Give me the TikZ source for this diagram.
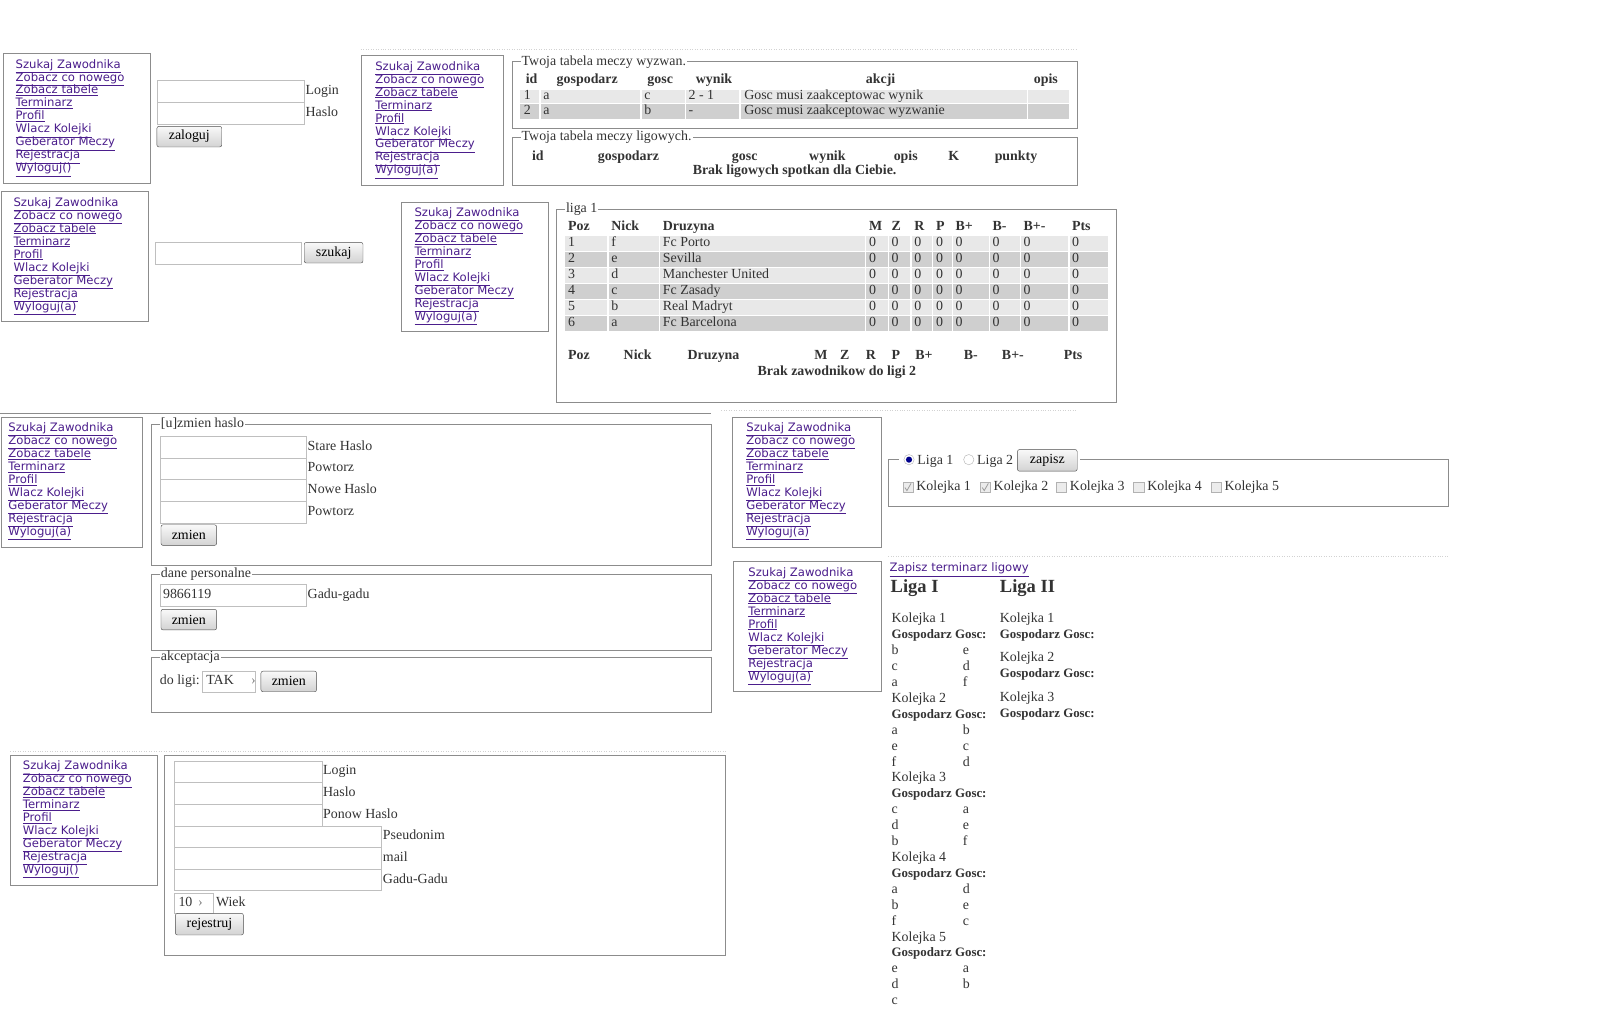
\documentclass[tikz,border=0pt]{standalone}
\usepackage{fontspec}
\setmainfont{Liberation Serif}
\newfontfamily\linkfont{DejaVu Sans}
\usetikzlibrary{positioning}
\definecolor{linkc}{RGB}{75,30,140}
\definecolor{boxc}{RGB}{140,140,140}
\tikzset{
  menubox/.style={draw=boxc, line width=0.8pt},
  link/.style={anchor=west, inner sep=0pt, text height=8.5pt, text depth=2.5pt, text=linkc, font=\linkfont\fontsize{11.3}{13}\selectfont},
  lbl/.style={anchor=west, inner sep=0pt, text height=9.5pt, text depth=3pt, text=black!80, font=\fontsize{13.5}{15}\selectfont},
  th/.style={lbl, font=\bfseries\fontsize{13.5}{15}\selectfont},
  gg/.style={lbl, font=\bfseries\fontsize{12.5}{14}\selectfont},
  field/.style={draw=gray!50, anchor=north west, inner sep=0pt, minimum height=21pt},
  btn/.style={draw=gray!60!black, rounded corners=2pt, top color=gray!5, bottom color=gray!35,
    anchor=north west, inner sep=0pt, minimum height=20pt, font=\fontsize{13.5}{15}\selectfont},
  fset/.style={draw=boxc, line width=0.8pt},
  legend/.style={lbl, fill=white, inner xsep=1pt},
  rowa/.style={fill=gray!18},
  rowb/.style={fill=gray!38},
  cellsep/.style={draw=white, line width=1.5pt},
  hint/.style={draw=gray!35, dotted}
}
% menu of links: name, box x, box y, box width, text offset, last link
\newcommand{\drawmenu}[6]{%
  \draw[menubox] (#2,#3) rectangle ++(#4,126);
  \foreach \lnk [count=\i from 0] in {Szukaj Zawodnika,Zobacz co nowego,Zobacz tabele,Terminarz,Profil,Wlacz Kolejki,Geberator Meczy,Rejestracja,#6}
    \node[link] (#1-\i) at ({#2+#5},{#3+11+12.6*\i}) {\underline{\lnk}};
}
\begin{document}
\begin{tikzpicture}[x=1pt,y=-1pt]
\fill[white] (0,0) rectangle (1568,979);
\useasboundingbox (0,0) rectangle (1568,979);
% faint guide lines
\draw[hint] (350,48) -- (1045,48);
\draw[hint] (700,398) -- (1045,398);
\draw[hint] (862,540) -- (1405,540);
\draw[hint] (10,729) -- (705,729);
\draw[boxc] (0,401) -- (690,401);

% menus
\drawmenu{ma}{3}{52}{143}{12}{Wyloguj()}
\drawmenu{mb}{1}{186}{143}{12}{Wyloguj(a)}
\drawmenu{mc}{351}{54}{137}{13}{Wyloguj(a)}
\drawmenu{md}{389}{196}{143}{13}{Wyloguj(a)}
\drawmenu{me}{1}{405}{137}{7}{Wyloguj(a)}
\drawmenu{mf}{711}{405}{144}{13}{Wyloguj(a)}
\drawmenu{mg}{712}{545}{143}{14}{Wyloguj(a)}
\drawmenu{mh}{10}{733}{143}{12}{Wyloguj()}

% login
\node[field, minimum width=143] (login) at (152,78) {};
\node[field, minimum width=143] (haslo) at (152,99) {};
\node[lbl, right=1pt of login] {Login};
\node[lbl, right=1pt of haslo] {Haslo};
\node[btn, minimum width=63] (zaloguj) at ([yshift=-2pt]haslo.south west) {zaloguj};

% search
\node[field, minimum width=142] (search) at (150,235) {};
\node[btn, minimum width=57] (szukaj) at (295,235) {szukaj};

% challenges
\draw[fset] (497,60) rectangle (1045,125);
\node[legend] (wyzwan) at (505,60) {Twoja tabela meczy wyzwan.};
\foreach \h/\hx in {id/510,gospodarz/540,gosc/628,wynik/675,akcji/840,opis/1003}
  \node[th] at (\hx,78) {\h};
\fill[rowa] (505,87) rectangle (1037,100);
\fill[rowb] (505,101) rectangle (1037,115);
\foreach \sx in {524,622,665,718,997}
  \draw[cellsep] (\sx,86) -- (\sx,116);
\foreach \a/\b/\c/\d/\e [count=\r] in {1/a/c/2 - 1/Gosc musi zaakceptowac wynik,2/a/b/-/Gosc musi zaakceptowac wyzwanie}{
  \node[lbl] at (508,{78+15*\r}) {\a};
  \node[lbl] at (527,{78+15*\r}) {\b};
  \node[lbl] at (625,{78+15*\r}) {\c};
  \node[lbl] at (668,{78+15*\r}) {\d};
  \node[lbl] at (722,{78+15*\r}) {\e};
}
\draw[fset] (497,133) rectangle (1045,180);
\node[legend] (ligowych) at (505,133) {Twoja tabela meczy ligowych.};
\foreach \h/\hx in {id/516,gospodarz/580,gosc/710,wynik/785,opis/867,K/920,punkty/965}
  \node[th] at (\hx,152) {\h};
\node[th, anchor=center] (brakl) at (771,166) {Brak ligowych spotkan dla Ciebie.};

% league table
\draw[fset] (540,203) rectangle (1083,390);
\node[legend] (liga) at (548,203) {liga 1};
\foreach \h/\hx in {Poz/551,Nick/593,Druzyna/643,M/843,Z/865,R/887,P/908,B+/927,B-/963,B+-/993,Pts/1040}
  \node[th] at (\hx,220) {\h};
\foreach \p/\n/\d [count=\r] in {1/f/Fc Porto,2/e/Sevilla,3/d/Manchester United,4/c/Fc Zasady,5/b/Real Madryt,6/a/Fc Barcelona}{
  \pgfmathsetmacro\ry{236+15.6*(\r-1)}
  \ifodd\r \fill[rowa] (548,\ry-7.3) rectangle (1075,\ry+7.3);
  \else \fill[rowb] (548,\ry-7.3) rectangle (1075,\ry+7.3); \fi
  \node[lbl] at (551,\ry) {\p};
  \node[lbl] at (593,\ry) {\n};
  \node[lbl] at (643,\ry) {\d};
  \foreach \cx in {843,865,887,908,927,963,993,1040}
    \node[lbl] at (\cx,\ry) {0};
}
\foreach \sx in {590,640,840,862,884,905,924,960,990,1037}
  \draw[cellsep] (\sx,227) -- (\sx,323);
\foreach \h/\hx in {Poz/551,Nick/605,Druzyna/667,M/790,Z/815,R/840,P/865,B+/888,B-/935,B+-/972,Pts/1032}
  \node[th] at (\hx,346) {\h};
\node[th, anchor=center] (brakz) at (812,361) {Brak zawodnikow do ligi 2};

% password change
\draw[fset] (147,412) rectangle (690,549);
\node[legend] (zmienh) at (155,412) {[u]zmien haslo};
\foreach \t [count=\i] in {Stare Haslo,Powtorz,Nowe Haslo,Powtorz}{
  \node[field, minimum width=142] (pw\i) at (155,{402+21*\i}) {};
  \node[lbl, right=1pt of pw\i] {\t};
}
\node[btn, minimum width=54] (zmien1) at (156,509) {zmien};

% personal data
\draw[fset] (147,557) rectangle (690,631);
\node[legend] (dane) at (155,557) {dane personalne};
\node[field, minimum width=142] (gg) at (155,567) {};
\node[lbl] at ([xshift=3pt]gg.west) {9866119};
\node[lbl, right=1pt of gg] {Gadu-gadu};
\node[btn, minimum width=54] (zmien2) at (156,591) {zmien};

% acceptance
\draw[fset] (147,638) rectangle (690,691);
\node[legend] (akc) at (155,638) {akceptacja};
\node[lbl] (doligi) at (155,661) {do ligi:};
\node[field, minimum width=51, minimum height=20] (tak) at (196,651) {};
\node[lbl] at ([xshift=4pt]tak.west) {TAK \quad \textcolor{gray}{›}};
\node[btn, minimum width=54] (zmien3) at (253,651) {zmien};

% league rounds switch
\draw[fset] (862,446) rectangle (1405,491);
\fill[white] (872,436) rectangle (1048,457);
\draw[gray!60, fill=white] (882,446) circle (5);
\fill[blue!55!black] (882,446) circle (3);
\node[lbl] (l1) at (890,447) {Liga 1};
\draw[gray!60, fill=white] (940,446) circle (5);
\node[lbl] (l2) at (948,447) {Liga 2};
\node[btn, minimum width=58, minimum height=21] (zapisz) at (987,436) {zapisz};
\foreach \bx [count=\i] in {876,951,1025,1100,1175}{
  \draw[gray!60, fill=gray!15] (\bx,468) rectangle ++(10,10);
  \node[lbl] (kb\i) at ({\bx+13},473) {Kolejka \i};
}
\foreach \bx in {876,951}
  \draw[gray!75, line width=0.8pt] ({\bx+2},473) -- ({\bx+4},476) -- ({\bx+8},469);

% schedule
\node[link] (zapiszt) at (863,552) {\underline{Zapisz terminarz ligowy}};
\node[lbl, text height=12pt, text depth=4pt, font=\bfseries\fontsize{18}{20}\selectfont] (liga1) at (864,571) {Liga I};
\node[lbl, text height=12pt, text depth=4pt, font=\bfseries\fontsize{18}{20}\selectfont] (liga2) at (970,571) {Liga II};
\foreach \k/\ha/\ga/\hb/\gb/\hc/\gc in {1/b/e/c/d/a/f,2/a/b/e/c/f/d,3/c/a/d/e/b/f,4/a/d/b/e/f/c,5/e/a/d/b/c/{}}{
  \pgfmathsetmacro\ky{601+77.2*(\k-1)}
  \node[lbl] (ka\k) at (865,\ky) {Kolejka \k};
  \node[gg] at (865,\ky+15.5) {Gospodarz Gosc:};
  \node[lbl] at (865,\ky+31) {\ha};
  \node[lbl] at (934,\ky+31) {\ga};
  \node[lbl] at (865,\ky+46.5) {\hb};
  \node[lbl] at (934,\ky+46.5) {\gb};
  \node[lbl] at (865,\ky+62) {\hc};
  \node[lbl] at (934,\ky+62) {\gc};
}
\foreach \k in {1,2,3}{
  \pgfmathsetmacro\ky{601+38*(\k-1)}
  \node[lbl] (kc\k) at (970,\ky) {Kolejka \k};
  \node[gg] at (970,\ky+15.5) {Gospodarz Gosc:};
}

% registration
\draw[fset] (160,733) rectangle (704,927);
\foreach \t/\w [count=\i] in {Login/143,Haslo/143,Ponow Haslo/143,Pseudonim/201,mail/201,Gadu-Gadu/201}{
  \node[field, minimum width=\w] (reg\i) at (169,{717+21*\i}) {};
  \node[lbl, right=1pt of reg\i] {\t};
}
\node[field, minimum width=38, minimum height=20] (wiek) at (169,866) {};
\node[lbl] at ([xshift=4pt]wiek.west) {10 \,\textcolor{gray}{›}};
\node[lbl, right=2pt of wiek] {Wiek};
\node[btn, minimum width=66, minimum height=21] (rejestruj) at (170,886) {rejestruj};
\end{tikzpicture}
\end{document}
